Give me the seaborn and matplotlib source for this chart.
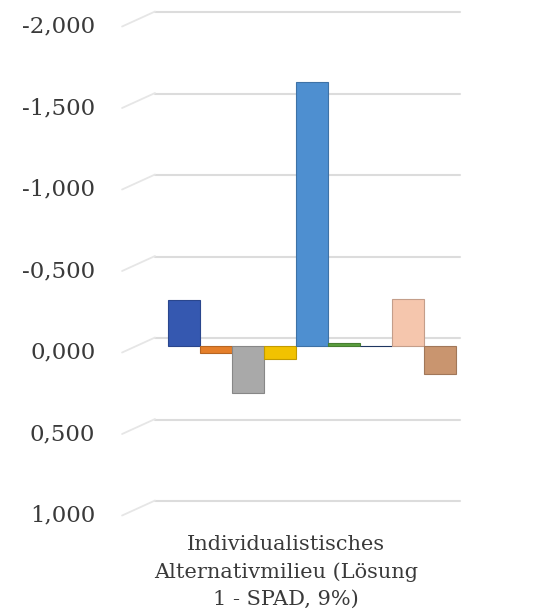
import matplotlib
matplotlib.use("Agg")
import matplotlib.pyplot as plt
import matplotlib.transforms as mtransforms
import seaborn as sns
import pandas as pd

category = "Individualistisches\nAlternativmilieu (Lösung\n1 - SPAD, 9%)"
series = ["S1", "S2", "S3", "S4", "S5", "S6", "S7", "S8", "S9"]
values = [-0.28, 0.04, 0.29, 0.08, -1.62, -0.02, 0.0, -0.29, 0.17]
colors = ["#3558b0", "#e57f2a", "#a9a9a9", "#f2c200", "#4e8fd0",
          "#5a9e3e", "#264478", "#f5c6ad", "#c9956f"]
yticks = [-2.0, -1.5, -1.0, -0.5, 0.0, 0.5, 1.0]
ytick_labels = ["-2,000", "-1,500", "-1,000", "-0,500", "0,000", "0,500", "1,000"]

df = pd.DataFrame({"cat": [category] * len(series), "series": series, "value": values})

sns.set_theme(style="white")
plt.rcParams["font.family"] = ["DejaVu Serif"]

fig = plt.figure(figsize=(5.48, 6.10), dpi=100)
ax = fig.add_axes([155 / 548, 1 - 509 / 610, 305 / 548, 489 / 610])

sns.barplot(data=df, x="cat", y="value", hue="series", palette=colors,
            hue_order=series, legend=False, ax=ax, saturation=1,
            edgecolor="none")

for p in ax.patches:
    c = p.get_facecolor()
    p.set_edgecolor((c[0] * 0.8, c[1] * 0.8, c[2] * 0.8, 1))
    p.set_linewidth(0.8)

ax.set_xlim(-0.436, 0.411)
ax.set_ylim(1.0, -2.0)
ax.set_yticks(yticks)
ax.set_yticklabels(ytick_labels)
ax.yaxis.grid(True, color="#dcdcdc", linewidth=1.5)
ax.set_axisbelow(True)
for s in ax.spines.values():
    s.set_visible(False)
ax.tick_params(axis="y", length=0, pad=43, labelsize=16.5, labelcolor="#3a3a3a")
ax.tick_params(axis="x", length=0, pad=19, labelsize=15, labelcolor="#3a3a3a")

grid_shift = mtransforms.ScaledTranslation(0, 8 / 100, fig.dpi_scale_trans)
for tick in ax.yaxis.get_major_ticks():
    tick.gridline.set_transform(tick.gridline.get_transform() + grid_shift)
    tick.gridline.set_clip_on(False)
for lbl in ax.get_yticklabels():
    lbl.set_transform(lbl.get_transform() +
                      mtransforms.ScaledTranslation(0, -4 / 100, fig.dpi_scale_trans))
for lbl in ax.get_xticklabels():
    lbl.set_transform(lbl.get_transform() +
                      mtransforms.ScaledTranslation(-26 / 100, 0, fig.dpi_scale_trans))
    lbl.set_multialignment("center")
    lbl.set_linespacing(1.5)

# side-wall depth lines (3D look)
ytrans = ax.get_yaxis_transform()
for v in yticks:
    ax.plot([-0.108, 0.0], [v + 0.04, v - 0.052], transform=ytrans,
            color="#e6e6e6", linewidth=1.3, clip_on=False)

ax.set_xlabel("")
ax.set_ylabel("")

fig.savefig("out.png", dpi=100)
